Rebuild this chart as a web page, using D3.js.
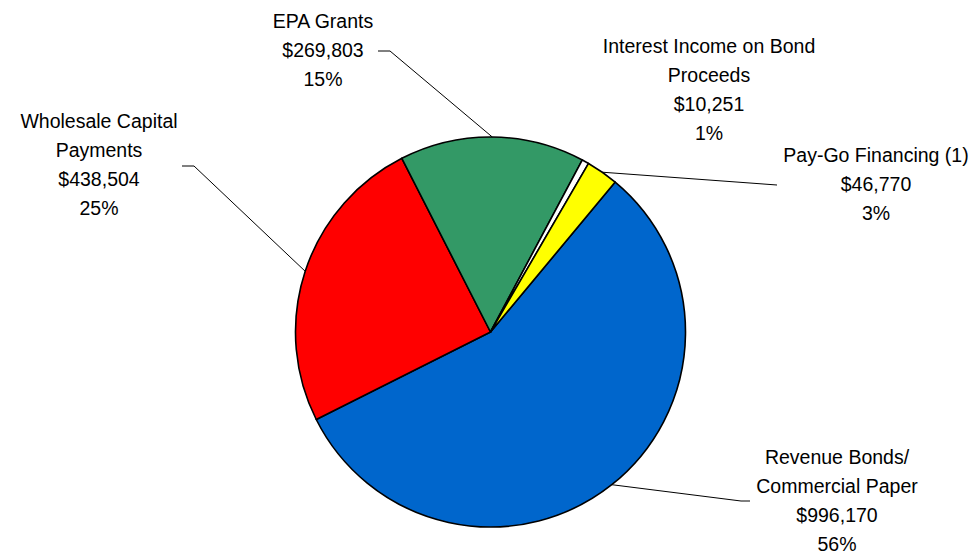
<!DOCTYPE html>
<html>
<head>
<meta charset="utf-8">
<script src="https://cdn.jsdelivr.net/npm/d3@7"></script>
<style>
  html, body { margin: 0; padding: 0; background: #ffffff; }
  svg { display: block; }
  text { font-family: "Liberation Sans", Arial, sans-serif; font-size: 19.5px; fill: #000; }
</style>
</head>
<body>
<svg id="chart" width="980" height="555"></svg>
<script>
// Capital funding sources (thousands of dollars)
const categories = [
  "Revenue Bonds/\nCommercial Paper",
  "Wholesale Capital\nPayments",
  "EPA Grants",
  "Interest Income on Bond\nProceeds",
  "Pay-Go Financing (1)"
];
const values = [996170, 438504, 269803, 10251, 46770];
const pctLabels = ["56%", "25%", "15%", "1%", "3%"];
const colors = ["#0066CC", "#FF0000", "#339966", "#FFFFFF", "#FFFF00"];

// Label placement: centre x, first baseline y, and leader path after the arc point
const labelLayout = [
  { x: 837, y: 464, leader: [[741, 501], [750, 501]] },
  { x: 99,  y: 128, leader: [[194, 166], [182, 166]] },
  { x: 323, y: 28,  leader: [[390, 51], [378, 51]] },
  { x: 709, y: 53,  leader: null },
  { x: 876, y: 162, leader: [[777, 185]] }
];

const svg = d3.select("#chart");
const cx = 490.5, cy = 332, r = 195;
const lineH = 28.9;

const start = 39.75 * Math.PI / 180;
const pie = d3.pie().sort(null).startAngle(start).endAngle(start + 2 * Math.PI);
const arcs = pie(values);
const arc = d3.arc().innerRadius(0).outerRadius(r);

const g = svg.append("g").attr("transform", `translate(${cx},${cy})`);

g.selectAll("path.slice")
  .data(arcs)
  .join("path")
  .attr("class", "slice")
  .attr("d", arc)
  .attr("fill", (d, i) => colors[i])
  .attr("stroke", "#000")
  .attr("stroke-width", 1.6)
  .attr("stroke-linejoin", "round");

const fmt = d3.format("$,");

// Leader lines from the slice's mid-angle on the rim to the label
arcs.forEach((d, i) => {
  const lay = labelLayout[i];
  if (!lay.leader) return;
  const mid = (d.startAngle + d.endAngle) / 2;
  const p0 = [cx + r * Math.sin(mid), cy - r * Math.cos(mid)];
  const pts = [p0].concat(lay.leader);
  svg.append("path")
    .attr("d", d3.line()(pts))
    .attr("fill", "none")
    .attr("stroke", "#000")
    .attr("stroke-width", 1);
});

// Labels: category name lines, dollar value, percent
arcs.forEach((d, i) => {
  const lay = labelLayout[i];
  const lines = categories[i].split("\n").concat([fmt(values[i]), pctLabels[i]]);
  const t = svg.append("text").attr("text-anchor", "middle");
  lines.forEach((ln, k) => {
    t.append("tspan")
      .attr("x", lay.x)
      .attr("y", lay.y + k * lineH)
      .text(ln);
  });
});
</script>
</body>
</html>
